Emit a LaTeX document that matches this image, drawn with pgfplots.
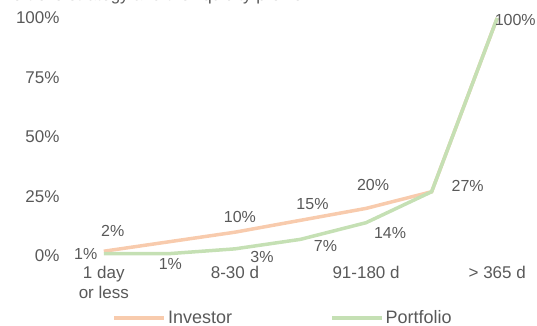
\documentclass[border=0pt]{standalone}
\usepackage{fontspec}
\setmainfont{Liberation Sans}
\usepackage{pgfplots}
\pgfplotsset{compat=1.18}
\usepackage{pgfplotstable}
\definecolor{inv}{HTML}{F8CBAD}
\definecolor{port}{HTML}{C5E0B4}
\definecolor{txt}{HTML}{595959}

\pgfplotstableread{
x y lab dx dy
0 2 2\% 9 20
1 6 {} 0 0
2 10 10\% 5 15
3 15 15\% 12 16
4 20 20\% 7 23
5 27 {} 0 0
6 100 {} 0 0
}\investor

\pgfplotstableread{
x y lab dx dy
0 1 1\% -18 0
1 1 1\% 1 -10
2 3 3\% 27 -8
3 7 7\% 25 -7
4 14 14\% 24 -10
5 27 27\% 36 6
6 100 100\% 18 -2
}\portfolio

\begin{document}
\begin{tikzpicture}
\begin{axis}[
  at={(0,0)}, anchor=south west,
  scale only axis, width=459bp, height=238bp,
  xmin=-0.5, xmax=6.5, ymin=0, ymax=100,
  axis line style={draw=none}, tick style={draw=none},
  xtick={0,2,4,6},
  xticklabels={{1 day\\or less},{8-30 d},{91-180 d},{> 365 d}},
  xticklabel style={align=center, yshift=-7bp},
  ytick={0,25,50,75,100},
  yticklabels={0\%,25\%,50\%,75\%,100\%},
  yticklabel style={xshift=-8bp},
  tick label style={font=\fontsize{17bp}{20bp}\selectfont, text=txt},
  /pgf/number format/assume math mode=true,
  clip=false,
  legend style={at={(0.462,-0.26)}, anchor=center, draw=none, fill=none,
    legend columns=2, font=\fontsize{18bp}{20bp}\selectfont, text=txt,
    /tikz/every even column/.append style={column sep=96bp}},
  legend image code/.code={\draw[#1,line width=3.5bp] (0bp,0bp) -- (50bp,0bp);},
  nodes near coords,
  point meta=explicit symbolic,
  visualization depends on={\thisrow{dx} \as \dx},
  visualization depends on={\thisrow{dy} \as \dy},
  every node near coord/.append style={anchor=center, xshift=\dx bp, yshift=\dy bp,
    font=\fontsize{16bp}{19bp}\selectfont, text=txt, inner sep=0pt},
]
\addplot[inv, line width=3.5bp, no markers] table[x=x, y=y, meta=lab] {\investor};
\addlegendentry{Investor}
\addplot[port, line width=3.5bp, no markers] table[x=x, y=y, meta=lab] {\portfolio};
\addlegendentry{Portfolio}
\end{axis}
\node[anchor=base west, text=txt, font=\fontsize{17bp}{20bp}\selectfont, inner sep=0pt]
  at (-70bp,255bp) {Portfolio strategy and the liquidity profile};
\pgfresetboundingbox
\path[use as bounding box] (-71bp,-70bp) rectangle (466bp,256bp);
\end{tikzpicture}
\end{document}
